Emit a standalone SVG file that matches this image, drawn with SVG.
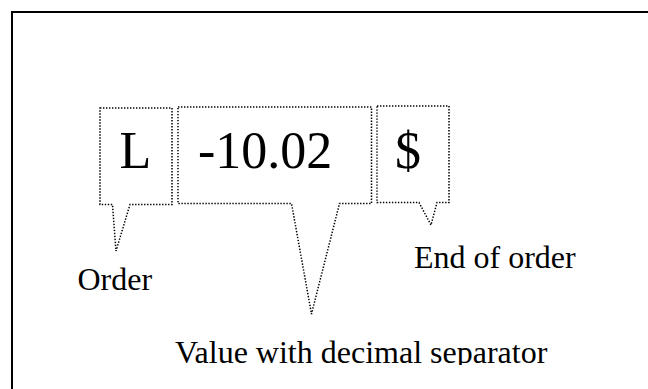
<svg xmlns="http://www.w3.org/2000/svg" width="648" height="389" viewBox="0 0 648 389">
  <style>
    .frame { fill: none; stroke: #000; stroke-width: 2; }
    .callout { fill: #fff; stroke: #000; stroke-width: 1.5; stroke-dasharray: 1.4 1.6; stroke-linejoin: miter; }
    .big { font-family: "Liberation Serif", "Times New Roman", serif; font-size: 52px; fill: #000; }
    .label { font-family: "Liberation Serif", "Times New Roman", serif; font-size: 32px; fill: #000; }
  </style>
  <defs>
    <clipPath id="clipBottom">
      <rect x="0" y="0" width="648" height="365"/>
    </clipPath>
  </defs>
  <rect width="648" height="389" fill="#fff"/>
  <rect class="frame" x="12" y="12" width="660" height="400"/>

  <g id="connectors"></g>

  <g id="node-order-code">
    <path class="callout" d="M100,108 H172 V204.5 H130 L116,251 L112.5,204.5 H100 Z"/>
    <text class="big" x="119.5" y="168">L</text>
  </g>

  <g id="node-value">
    <path class="callout" d="M178,107 H371.5 V203.5 H339.5 L311.5,314 L291.5,203.5 H178 Z"/>
    <text class="big" x="198" y="168">-10.02</text>
  </g>

  <g id="node-end">
    <path class="callout" d="M377,106 H449 V202.5 H437 L431,225 L419,202.5 H377 Z"/>
    <text class="big" x="395" y="168">$</text>
  </g>

  <g id="label-order">
    <text class="label" x="77.5" y="290">Order</text>
  </g>

  <g id="label-end">
    <text class="label" x="414" y="268">End of order</text>
  </g>

  <g id="label-value">
    <text class="label" x="175" y="363" clip-path="url(#clipBottom)">Value with decimal separator</text>
  </g>
</svg>
